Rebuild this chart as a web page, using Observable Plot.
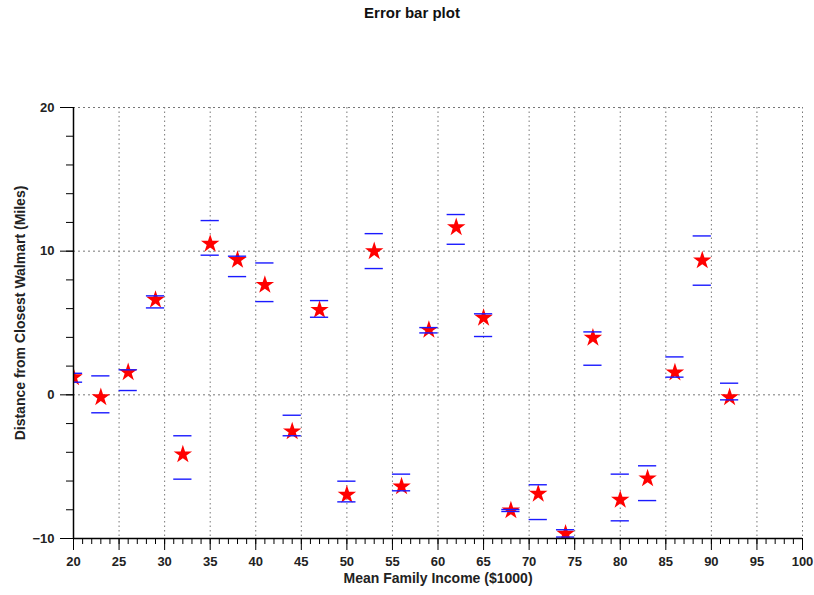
<!DOCTYPE html>
<html><head><meta charset="utf-8">
<script src="https://cdn.jsdelivr.net/npm/d3@7"></script>
<script src="https://cdn.jsdelivr.net/npm/@observablehq/plot@0.6"></script>
<style>
body{margin:0;background:#fff;font-family:"Liberation Sans",Arial,sans-serif}
#title{width:814px;height:30px;text-align:center;font-weight:bold;font-size:15px;line-height:15px;padding-top:5px;padding-left:10px;box-sizing:border-box;color:#111}
</style></head><body>
<div id="title">Error bar plot</div>
<div id="chart"></div>
<script>
const income   = [20, 23, 26, 29, 32, 35, 38, 41, 44, 47, 50, 53, 56, 59, 62, 65, 68, 71, 74, 77, 80, 83, 86, 89, 92];
const distance = [1.22, -0.17, 1.57, 6.61, -4.15, 10.51, 9.39, 7.65, -2.55, 5.91, -6.96, 9.99, -6.38, 4.52, 11.66, 5.36, -8.05, -6.89, -9.67, 3.97, -7.31, -5.82, 1.55, 9.35, -0.17];
const upper    = [1.50, 1.32, 1.74, 6.89, -2.85, 12.13, 9.65, 9.18, -1.42, 6.56, -6.01, 11.22, -5.52, 4.68, 12.55, 5.64, -7.98, -6.26, -9.39, 4.38, -5.52, -4.94, 2.64, 11.06, 0.81];
const lower    = [0.88, -1.25, 0.30, 6.05, -5.87, 9.72, 8.23, 6.49, -2.85, 5.40, -7.45, 8.79, -6.68, 4.31, 10.48, 4.06, -8.12, -8.68, -9.90, 2.06, -8.77, -7.36, 1.23, 7.63, -0.35];
const xMajorTicks = [20, 25, 30, 35, 40, 45, 50, 55, 60, 65, 70, 75, 80, 85, 90, 95, 100];
const yMajorTicks = [-10, 0, 10, 20];
const xGridTicks = [25, 30, 35, 40, 45, 50, 55, 60, 65, 70, 75, 80, 85, 90, 95, 100];
const yGridTicks = [0, 10, 20];
const xLabel = ["Mean Family Income ($1000)"];
const yLabel = ["Distance from Closest Walmart (Miles)"];

const data = income.map((x, i) => ({x, y: distance[i], hi: upper[i], lo: lower[i]}));
const caps = data.flatMap(d => [{x: d.x, v: d.hi}, {x: d.x, v: d.lo}]);
const capHalf = 1;

const chart = Plot.plot({
  width: 814, height: 565,
  marginTop: 77, marginBottom: 57, marginLeft: 73, marginRight: 12,
  x: {domain: [20, 100]},
  y: {domain: [-10, 20]},
  style: {fontFamily: "'Liberation Sans', Arial, sans-serif", fontSize: "13px", fontWeight: "bold", color: "#222", background: "#fff"},
  marks: [
    Plot.gridX(xGridTicks, {stroke: "#777", strokeOpacity: 1, strokeDasharray: "1.5,3"}),
    Plot.gridY(yGridTicks, {stroke: "#777", strokeOpacity: 1, strokeDasharray: "2,3"}),
    Plot.dot(data, {x: "x", y: "y", symbol: "star", r: 5.8, fill: "red", stroke: "none", clip: true}),
    Plot.ruleY(caps, {x1: d => d.x - capHalf, x2: d => d.x + capHalf, y: "v", stroke: "#1a1aff", strokeWidth: 1.4, clip: true}),
    Plot.axisX(d3.range(20, 101, 1), {tickSize: 6, text: null, label: null, stroke: "#000"}),
    Plot.axisX(xMajorTicks, {tickSize: 12, tickPadding: 6, stroke: "#000", label: null}),
    Plot.axisY(d3.range(-10, 21, 2), {tickSize: 7, text: null, label: null, stroke: "#000"}),
    Plot.axisY(yMajorTicks, {tickSize: 13, tickPadding: 6, stroke: "#000", label: null}),
    Plot.text(xLabel, {text: d => d, frameAnchor: "bottom", textAnchor: "middle", dy: 44, fontSize: 14, fontWeight: "bold", fill: "#222"}),
    Plot.text(yLabel, {text: d => d, frameAnchor: "left", textAnchor: "middle", rotate: -90, dx: -53, dy: -10, fontSize: 14, fontWeight: "bold", fill: "#222"}),
    Plot.ruleX([20], {stroke: "#000", strokeWidth: 1.5}),
    Plot.ruleY([-10], {stroke: "#000", strokeWidth: 1.5})
  ]
});
document.getElementById("chart").appendChild(chart);
</script>
</body></html>
